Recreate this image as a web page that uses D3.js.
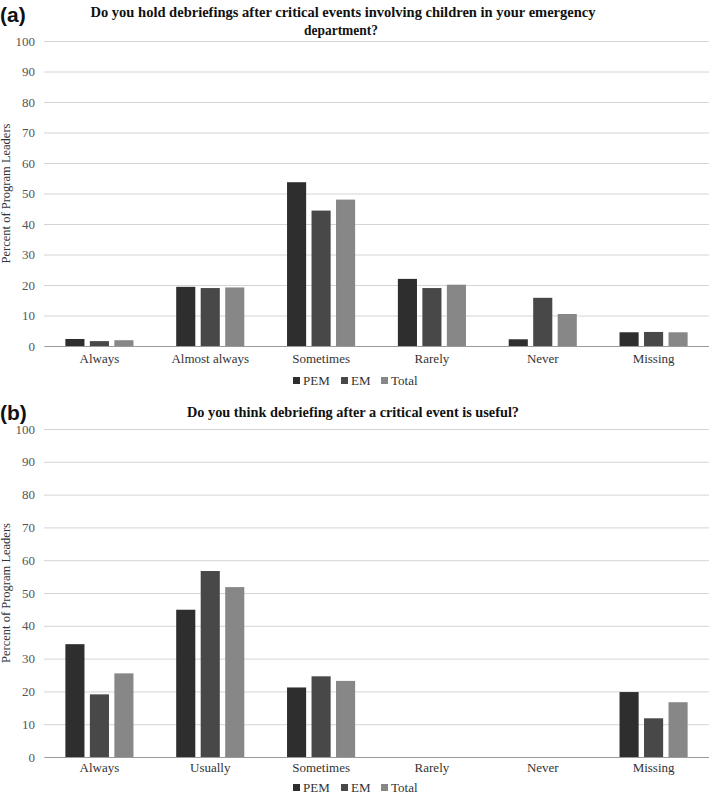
<!DOCTYPE html>
<html>
<head>
<meta charset="utf-8">
<script src="https://cdn.jsdelivr.net/npm/d3@7"></script>
<style>
  html, body { margin: 0; padding: 0; background: #fff; }
  svg { display: block; }
  .serif { font-family: "Liberation Serif", "Times New Roman", serif; }
</style>
</head>
<body>
<svg id="chart" width="709" height="794"></svg>
<script>
// ---- Data ----
const seriesNames = ["PEM", "EM", "Total"];
const seriesColors = ["#2e2e2e", "#484848", "#878787"];
const yTicks = [0, 10, 20, 30, 40, 50, 60, 70, 80, 90, 100];

const categoriesA = ["Always", "Almost always", "Sometimes", "Rarely", "Never", "Missing"];
const pemA   = [2.3, 19.4, 53.7, 22.0, 2.2, 4.5];
const emA    = [1.6, 19.0, 44.4, 19.0, 15.8, 4.6];
const totalA = [1.9, 19.2, 48.0, 20.1, 10.5, 4.5];

const categoriesB = ["Always", "Usually", "Sometimes", "Rarely", "Never", "Missing"];
const pemB   = [34.4, 44.9, 21.2, 0, 0, 19.8];
const emB    = [19.1, 56.7, 24.6, 0, 0, 11.8];
const totalB = [25.5, 51.8, 23.2, 0, 0, 16.7];

const svg = d3.select("#chart");

function panel(opts) {
  const { label, labelY, titleLines, titleX, titleYs, titleLens, top, bottom,
          categories, values, catPad, legOffset } = opts;
  const left = 44, right = 709;

  // Panel letter
  svg.append("text")
    .attr("x", 0).attr("y", labelY)
    .style("font-family", "'Liberation Sans', Arial, sans-serif")
    .attr("font-weight", "bold")
    .attr("font-size", 21)
    .attr("fill", "#111")
    .text(label);

  // Title
  titleLines.forEach((t, i) => {
    svg.append("text")
      .attr("class", "serif")
      .attr("x", titleX[i]).attr("y", titleYs[i])
      .attr("text-anchor", "middle")
      .attr("font-weight", "bold")
      .attr("font-size", 15)
      .attr("fill", "#111")
      .attr("textLength", titleLens[i])
      .attr("lengthAdjust", "spacingAndGlyphs")
      .text(t);
  });

  const y = d3.scaleLinear().domain([0, 100]).range([bottom, top]);
  const x0 = d3.scaleBand().domain(categories).range([left, right])
    .paddingInner(0.337).paddingOuter(0.1685);
  const x1 = d3.scaleBand().domain(seriesNames).range([0, x0.bandwidth()])
    .paddingInner(0.22).paddingOuter(0.11);

  // Gridlines & y axis
  const yAxis = d3.axisLeft(y).tickValues(yTicks)
    .tickSize(-(right - left)).tickPadding(9);
  const gy = svg.append("g").attr("transform", `translate(${left},0)`).call(yAxis);
  gy.attr("font-family", null);
  gy.select(".domain").remove();
  gy.selectAll(".tick line").attr("stroke", "#d4d4d4").attr("stroke-width", 1);
  gy.selectAll(".tick text")
    .attr("class", "serif").attr("font-size", 13).attr("fill", "#555");

  // Bars
  const rows = categories.map((c, i) => ({ cat: c, vals: values.map(v => v[i]) }));
  const g = svg.append("g");
  g.selectAll("g.grp").data(rows).join("g")
    .attr("class", "grp")
    .attr("transform", d => `translate(${x0(d.cat)},0)`)
    .selectAll("rect")
    .data(d => d.vals.map((v, k) => ({ key: seriesNames[k], v, k })).filter(e => e.v > 0))
    .join("rect")
    .attr("x", d => x1(d.key))
    .attr("width", x1.bandwidth())
    .attr("y", d => y(d.v))
    .attr("height", d => y(0) - y(d.v))
    .attr("fill", d => seriesColors[d.k]);

  // X axis baseline
  const xAxis = d3.axisBottom(x0).tickSize(0).tickPadding(catPad);
  const gx = svg.append("g").attr("transform", `translate(0,${bottom})`).call(xAxis);
  gx.attr("font-family", null);
  gx.select(".domain").attr("stroke", "#9a9a9a").attr("stroke-width", 1.2);
  gx.selectAll(".tick text")
    .attr("class", "serif").attr("font-size", 13).attr("fill", "#333");

  // Y title
  svg.append("text")
    .attr("class", "serif")
    .attr("transform", `translate(10,${(top + bottom) / 2}) rotate(-90)`)
    .attr("text-anchor", "middle")
    .attr("font-size", 12.5)
    .attr("fill", "#333")
    .text("Percent of Program Leaders");

  // Legend
  const legY = bottom + legOffset;
  const legX = [293, 341, 381];
  const leg = svg.append("g");
  seriesNames.forEach((n, k) => {
    leg.append("rect")
      .attr("x", legX[k]).attr("y", legY - 4)
      .attr("width", 7).attr("height", 7)
      .attr("fill", seriesColors[k]);
    leg.append("text")
      .attr("class", "serif")
      .attr("x", legX[k] + 10).attr("y", legY + 4)
      .attr("font-size", 13).attr("fill", "#333")
      .text(n);
  });
}

panel({
  label: "(a)", labelY: 22,
  titleLines: ["Do you hold debriefings after critical events involving children in your emergency", "department?"],
  titleX: [343, 341], titleYs: [17, 35], titleLens: [505, 74],
  top: 41, bottom: 346,
  categories: categoriesA,
  values: [pemA, emA, totalA],
  catPad: 8, legOffset: 35
});

panel({
  label: "(b)", labelY: 420,
  titleLines: ["Do you think debriefing after a critical event is useful?"],
  titleX: [353], titleYs: [417], titleLens: [332],
  top: 429, bottom: 757,
  categories: categoriesB,
  values: [pemB, emB, totalB],
  catPad: 6, legOffset: 31
});
</script>
</body>
</html>
